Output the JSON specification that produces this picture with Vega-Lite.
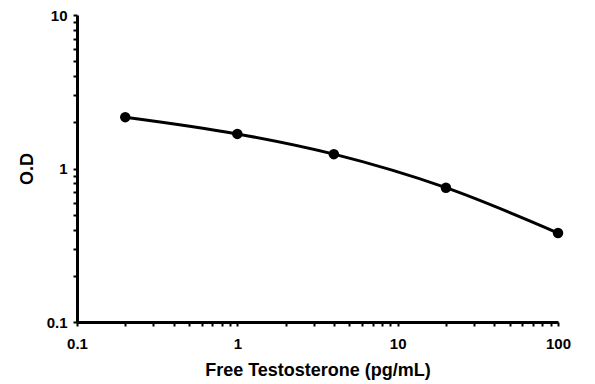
{
  "$schema": "https://vega.github.io/schema/vega-lite/v6.json",
  "autosize": {"type": "none"},
  "padding": {"left": 77, "top": 15, "right": 37, "bottom": 62},
  "width": 481,
  "height": 307,
  "background": "white",
  "config": {
    "view": {"stroke": null},
    "font": "Liberation Sans",
    "axis": {
      "grid": false,
      "domainColor": "black",
      "domainWidth": 3,
      "tickColor": "black",
      "tickWidth": 2,
      "tickSize": 4,
      "labelFont": "Liberation Sans",
      "labelFontWeight": "bold",
      "labelFontSize": 15,
      "labelColor": "black",
      "titleFont": "Liberation Sans",
      "titleFontWeight": "bold",
      "titleFontSize": 18,
      "titleColor": "black"
    }
  },
  "data": {
    "values": [
      {"conc": 0.2, "od": 2.16},
      {"conc": 1, "od": 1.68},
      {"conc": 4, "od": 1.24},
      {"conc": 20, "od": 0.75},
      {"conc": 100, "od": 0.38}
    ]
  },
  "encoding": {
    "x": {
      "field": "conc",
      "type": "quantitative",
      "scale": {"type": "log", "domain": [0.1, 100], "nice": false},
      "axis": {
        "title": "Free Testosterone (pg/mL)",
        "values": [0.1,0.2,0.3,0.4,0.5,0.6,0.7,0.8,0.9,1,2,3,4,5,6,7,8,9,10,20,30,40,50,60,70,80,90,100],
        "labelExpr": "indexof([0.1,1,10,100], datum.value) >= 0 ? datum.label : ''",
        "labelPadding": 10,
        "titlePadding": 10,
        "labelFlush": false,
        "labelOverlap": false
      }
    },
    "y": {
      "field": "od",
      "type": "quantitative",
      "scale": {"type": "log", "domain": [0.1, 10], "nice": false},
      "axis": {
        "title": "O.D",
        "values": [0.1,0.2,0.3,0.4,0.5,0.6,0.7,0.8,0.9,1,2,3,4,5,6,7,8,9,10],
        "labelExpr": "indexof([0.1,1,10], datum.value) >= 0 ? datum.label : ''",
        "labelPadding": 6,
        "titlePadding": 10,
        "labelFlush": false,
        "labelOverlap": false
      }
    }
  },
  "layer": [
    {"mark": {"type": "line", "interpolate": "monotone", "color": "black", "strokeWidth": 3, "clip": false}},
    {"mark": {"type": "point", "filled": true, "color": "black", "opacity": 1, "size": 110, "clip": false}}
  ]
}
